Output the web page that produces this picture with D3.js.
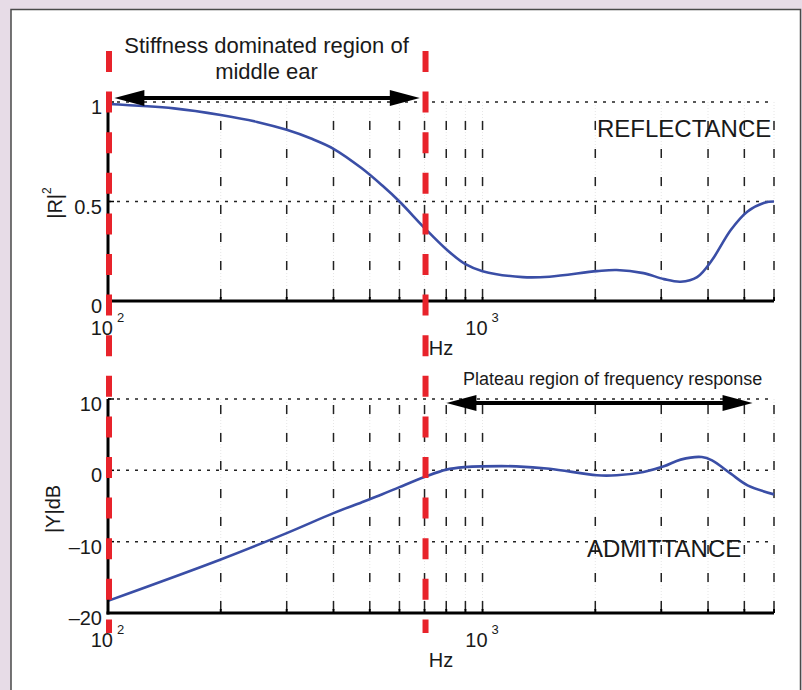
<!DOCTYPE html>
<html><head><meta charset="utf-8">
<script src="https://cdn.jsdelivr.net/npm/d3@7"></script>
<style>
html,body{margin:0;padding:0;background:#e7dce7;}
svg{display:block;font-family:"Liberation Sans",Arial,Helvetica,sans-serif;}
</style></head><body>
<svg id="chart" width="802" height="690"></svg>
<script>
// ---- data ----
const reflFreq = [100,150,200,250,300,350,400,475,540,600,700,800,900,1000,1280,1510,2020,2280,2690,3050,3380,3740,4100,4600,5100,5660,6000];
const reflVal  = [0.99,0.968,0.935,0.90,0.86,0.815,0.765,0.668,0.58,0.50,0.367,0.26,0.185,0.15,0.12,0.122,0.15,0.156,0.14,0.11,0.097,0.12,0.206,0.357,0.45,0.494,0.50];
const admFreq  = [100,200,300,400,475,540,600,700,800,900,1000,1230,1510,2020,2280,2690,3050,3380,3850,4100,4600,5100,6000];
const admVal   = [-18.3,-12.5,-8.8,-6.0,-4.5,-3.35,-2.35,-0.93,0.1,0.46,0.56,0.56,0.23,-0.7,-0.7,-0.23,0.56,1.5,1.87,1.4,-0.47,-2.1,-3.37];
const xDomain = [100, 6000];
const gridFreqs = [200,300,400,500,600,700,800,900,1000,2000,3000,4000,5000,6000];
const reflTicks = [0, 0.5, 1];
const reflTickLabels = ["0", "0.5", "1"];
const admTicks = [-20, -10, 0, 10];
const admTickLabels = ["\u201320", "\u201310", "0", "10"];
const decadeTicks = [100, 1000];
const decadeExp = ["2", "3"];
const markerFreqs = [100, 700];            // red dashed lines
const stiffArrow = [104, 680];             // Hz
const plateauArrow = [801, 5260];          // Hz
const texts = {
  stiff1: "Stiffness dominated region of", stiff2: "middle ear",
  plateau: "Plateau region of frequency response",
  refl: "REFLECTANCE", adm: "ADMITTANCE", xlabel: "Hz"
};

const svg = d3.select("#chart");
// frame
svg.append("rect").attr("x",11).attr("y",9.5).attr("width",789.5).attr("height",700)
  .attr("fill","#fff").attr("stroke","#4a4a4a").attr("stroke-width",1.5);

const x = d3.scaleLog().domain(xDomain).range([108, 774]);
const yR = d3.scaleLinear().domain([0,1]).range([301,102]);
const yA = d3.scaleLinear().domain([-20,10]).range([613,399]);

function panel(y, ticks, tickLabels, freqs, vals, labelMain, labelSup, ylabelX, ylabelY, xlabBase) {
  const g = svg.append("g");
  const [y0, y1] = y.range();
  // vertical grid
  g.selectAll(".vg").data(gridFreqs).join("line")
    .attr("x1", d=>x(d)).attr("x2", d=>x(d)).attr("y1", y0).attr("y2", y1)
    .attr("stroke","#e6e6e6").attr("stroke-width",1).attr("stroke-dasharray","1,2");
  g.selectAll(".vg2").data(gridFreqs).join("line")
    .attr("x1", d=>x(d)).attr("x2", d=>x(d)).attr("y1", y0-3).attr("y2", y1)
    .attr("stroke","#222").attr("stroke-width",1.5).attr("stroke-dasharray","9,19");
  // horizontal grid
  g.selectAll(".hg").data(ticks.filter(t=>t!==y.domain()[0])).join("line")
    .attr("x1", x(xDomain[0])).attr("x2", x(xDomain[1])).attr("y1", d=>y(d)).attr("y2", d=>y(d))
    .attr("stroke","#222").attr("stroke-width",1.5).attr("stroke-dasharray","3,6");
  // curve
  const line = d3.line().x(d=>x(d[0])).y(d=>y(d[1])).curve(d3.curveCatmullRom.alpha(0.5));
  g.append("path").datum(freqs.map((f,i)=>[f, vals[i]]))
    .attr("d", line).attr("fill","none").attr("stroke","#3a4ea6").attr("stroke-width",2.6);
  // axes
  g.append("line").attr("x1",x(xDomain[0])).attr("x2",x(xDomain[0])).attr("y1",y0+1.5).attr("y2",y1)
    .attr("stroke","#000").attr("stroke-width",3);
  g.append("line").attr("x1",x(xDomain[0])-1.5).attr("x2",x(xDomain[1])).attr("y1",y0).attr("y2",y0)
    .attr("stroke","#000").attr("stroke-width",3);
  // bottom ticks
  g.selectAll(".bt").data(gridFreqs).join("line")
    .attr("x1", d=>x(d)).attr("x2", d=>x(d)).attr("y1", y0).attr("y2", y0-4)
    .attr("stroke","#000").attr("stroke-width",2);
  // left ticks
  g.selectAll(".lt").data(ticks).join("line")
    .attr("x1", x(xDomain[0])).attr("x2", x(xDomain[0])+6).attr("y1", d=>y(d)).attr("y2", d=>y(d))
    .attr("stroke","#000").attr("stroke-width",1.5);
  // y tick labels
  g.selectAll(".yl").data(ticks).join("text")
    .attr("x", 102).attr("y", d=>y(d)+5).attr("text-anchor","end").attr("dominant-baseline","central")
    .attr("font-size",20).attr("fill","#1a1a1a").text((d,i)=>tickLabels[i]);
  // x decade labels
  decadeTicks.forEach((d,i)=>{
    g.append("text").attr("x", x(d)+5).attr("y", xlabBase).attr("text-anchor","end")
      .attr("font-size",20).attr("fill","#1a1a1a").text("10");
    g.append("text").attr("x", x(d)+9).attr("y", xlabBase-13).attr("text-anchor","start")
      .attr("font-size",13).attr("fill","#1a1a1a").text(decadeExp[i]);
  });
  // x label
  g.append("text").attr("x", (x(xDomain[0])+x(xDomain[1]))/2).attr("y", xlabBase+20)
    .attr("text-anchor","middle").attr("font-size",20).attr("fill","#1a1a1a").text(texts.xlabel);
  // y label
  const yl = g.append("text").attr("transform", `translate(${ylabelX},${ylabelY}) rotate(-90)`)
    .attr("text-anchor","middle").attr("dominant-baseline","central")
    .attr("font-size",20).attr("fill","#1a1a1a");
  yl.append("tspan").text(labelMain);
  if (labelSup) yl.append("tspan").attr("font-size",12).attr("dy",-8).text(labelSup);
  return g;
}

panel(yR, reflTicks, reflTickLabels, reflFreq, reflVal, "|R|", "2", 55, 203, 335);
panel(yA, admTicks, admTickLabels, admFreq, admVal, "|Y|dB", null, 53, 509, 647);

// panel titles
svg.append("text").attr("x",597).attr("y",137).attr("font-size",24).attr("fill","#1a1a1a").text(texts.refl);
svg.append("text").attr("x",587).attr("y",557).attr("font-size",24).attr("fill","#1a1a1a").text(texts.adm);

// annotations
svg.append("text").attr("x",266.5).attr("y",53).attr("text-anchor","middle").attr("font-size",22).attr("fill","#1a1a1a").text(texts.stiff1);
svg.append("text").attr("x",266.5).attr("y",79).attr("text-anchor","middle").attr("font-size",22).attr("fill","#1a1a1a").text(texts.stiff2);
svg.append("text").attr("x",463).attr("y",385).attr("font-size",18).attr("fill","#1a1a1a").text(texts.plateau);

function arrow(f0, f1, yy) {
  const xa = x(f0), xb = x(f1), hl = 30, hw = 8;
  const g = svg.append("g");
  g.append("line").attr("x1", xa+hl-2).attr("x2", xb-hl+2).attr("y1", yy).attr("y2", yy)
    .attr("stroke","#000").attr("stroke-width",4);
  g.append("path").attr("d", `M${xa},${yy} L${xa+hl},${yy-hw} L${xa+hl},${yy+hw} Z`).attr("fill","#000");
  g.append("path").attr("d", `M${xb},${yy} L${xb-hl},${yy-hw} L${xb-hl},${yy+hw} Z`).attr("fill","#000");
}
arrow(stiffArrow[0], stiffArrow[1], yR(1.02));
arrow(plateauArrow[0], plateauArrow[1], yA(9.45));

// red dashed markers
svg.selectAll(".red").data(markerFreqs).join("line")
  .attr("x1", d=>x(d)+1).attr("x2", d=>x(d)+1).attr("y1", 51).attr("y2", 633)
  .attr("stroke","#e8232b").attr("stroke-width",6).attr("stroke-dasharray","21,19.6");
</script>
</body></html>
